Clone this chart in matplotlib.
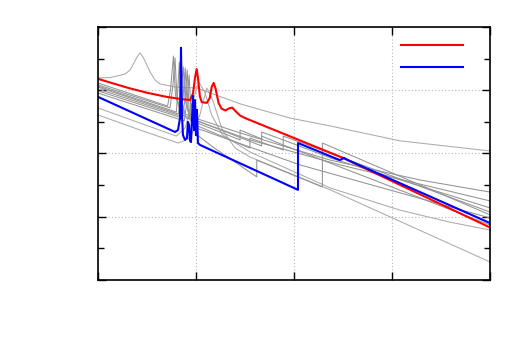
import matplotlib
matplotlib.use("Agg")
import matplotlib.pyplot as plt
from matplotlib.ticker import MultipleLocator, NullFormatter

# curva roja
rojo_x = [0, 0.3, 0.5, 0.7, 0.85, 0.94, 0.97, 0.99, 1.007, 1.02, 1.04, 1.06, 1.11, 1.14,
          1.16, 1.18, 1.2, 1.23, 1.26, 1.3, 1.34, 1.37, 1.4, 1.45, 1.5, 2.5, 4.0]
rojo_y = [6.36, 6.08, 5.92, 5.79, 5.72, 5.69, 5.9, 6.4, 6.67, 6.4, 5.8, 5.62, 5.6, 5.75,
          6.1, 6.23, 6.05, 5.6, 5.42, 5.36, 5.43, 5.45, 5.35, 5.2, 5.12, 3.86, 1.66]

# curva azul
azul_x = [0, 0.786, 0.816, 0.837, 0.847, 0.857, 0.867, 0.888, 0.908, 0.918, 0.929, 0.939,
          0.949, 0.959, 0.969, 0.98, 0.99, 1.0, 1.01, 1.02, 1.041, 2.041, 2.041, 2.469,
          2.51, 2.551, 4.0]
azul_y = [5.79, 4.68, 4.74, 5.12, 7.34, 5.22, 4.58, 4.43, 4.49, 5.0, 4.9, 4.4,
          4.36, 5.06, 5.82, 4.74, 5.69, 4.58, 5.38, 4.33, 4.27, 2.85, 4.33, 3.79,
          3.86, 3.79, 1.80]

# curvas grises (resto de casos)
g1_x = [0, 0.122, 0.276, 0.327, 0.367, 0.398, 0.429, 0.459, 0.49, 0.531, 0.582, 0.633,
        0.79, 1.01, 1.45, 1.96, 2.37, 3.08, 4.0]
g1_y = [6.39, 6.40, 6.51, 6.64, 6.86, 7.05, 7.18, 7.05, 6.86, 6.58, 6.32, 6.20,
        6.10, 6.07, 5.57, 5.12, 4.87, 4.40, 4.08]

c1_x = [0, 0.71, 0.74, 0.77, 0.79, 0.84, 0.99, 1.45, 2.37, 3.29, 4.0]
c1_y = [6.23, 5.50, 6.01, 7.08, 5.85, 5.31, 5.12, 4.65, 3.79, 3.16, 2.78]
c2_x = [0, 0.735, 0.765, 0.786, 0.806, 0.857, 1.01, 1.55, 2.47, 4.0]
c2_y = [6.17, 5.44, 6.17, 7.02, 5.76, 5.22, 5.03, 4.43, 3.64, 2.50]
c3_x = [0, 0.82, 0.85, 0.87, 0.89, 0.94, 1.04, 1.45, 1.45, 1.67, 1.67, 1.89, 2.37, 4.0]
c3_y = [6.10, 5.25, 6.01, 6.74, 5.69, 5.06, 4.93, 4.43, 4.74, 4.46, 4.68, 4.43, 3.86, 2.28]
c4_x = [0, 0.84, 0.87, 0.89, 0.91, 0.96, 1.04, 1.55, 1.55, 1.89, 1.89, 2.06, 4.0]
c4_y = [6.04, 5.19, 5.85, 6.70, 5.53, 4.90, 4.84, 4.17, 4.49, 4.11, 4.55, 4.36, 2.15]
c5_x = [0, 0.86, 0.89, 0.91, 0.93, 0.99, 1.09, 2.06, 4.0]
c5_y = [5.98, 5.12, 5.76, 6.64, 5.38, 4.81, 4.71, 3.64, 1.96]
c6_x = [0, 0.88, 0.91, 0.93, 0.95, 1.01, 1.17, 1.62, 1.62, 2.29, 2.29, 4.0]
c6_y = [5.91, 5.03, 5.69, 6.48, 5.22, 4.59, 4.21, 3.26, 3.79, 2.94, 4.33, 2.06]
c7_x = [0, 0.80, 0.82, 0.83, 0.85, 0.90, 1.04, 1.67, 1.67, 1.89, 4.0]
c7_y = [6.13, 5.31, 6.32, 6.89, 5.69, 5.12, 5.00, 4.24, 4.55, 4.27, 1.74]

l1_x = [0, 0.43, 0.80, 0.89, 0.97, 1.03, 1.09, 1.16, 1.27, 1.55, 2.37, 3.08, 3.59, 4.0]
l1_y = [5.44, 4.96, 4.55, 4.81, 5.69, 6.26, 5.94, 5.22, 4.59, 4.05, 2.91, 2.21, 1.83, 1.58]
l2_x = [0, 0.43, 0.82, 0.94, 1.04, 1.11, 1.17, 1.27, 1.40, 1.55, 2.37, 4.0]
l2_y = [5.22, 4.74, 4.33, 4.49, 5.22, 6.07, 5.69, 4.74, 4.17, 3.89, 2.85, 0.57]

grises_claros = [(g1_x, g1_y), (l1_x, l1_y), (l2_x, l2_y)]
grises_oscuros = [(c1_x, c1_y), (c2_x, c2_y), (c3_x, c3_y), (c4_x, c4_y),
                  (c5_x, c5_y), (c6_x, c6_y), (c7_x, c7_y)]

fig = plt.figure(figsize=(5.32, 3.55), dpi=100)
ax = fig.add_axes([0.1842, 0.2113, 0.7368, 0.7127])

for gx, gy in grises_claros:
    ax.plot(gx, gy, color='#ababab', lw=0.75)
for gx, gy in grises_oscuros:
    ax.plot(gx, gy, color='#939393', lw=0.75)

l_rojo, = ax.plot(rojo_x, rojo_y, color='#ff0000', lw=1.5)
l_azul, = ax.plot(azul_x, azul_y, color='#0000ff', lw=1.5)

ax.set_xlim(0, 4)
ax.set_ylim(0, 8)
ax.xaxis.set_major_locator(MultipleLocator(1))
ax.yaxis.set_major_locator(MultipleLocator(2))
ax.yaxis.set_minor_locator(MultipleLocator(1))
ax.xaxis.set_major_formatter(NullFormatter())
ax.yaxis.set_major_formatter(NullFormatter())
ax.tick_params(which='both', direction='in', top=True, right=True, color='black')
ax.tick_params(which='major', length=6, width=1)
ax.tick_params(which='minor', length=4, width=1)
for s in ax.spines.values():
    s.set_linewidth(1.2)
ax.grid(True, which='major', color='#b8b8b8', linestyle=(0, (1, 2)), lw=0.8)

ax.legend([l_rojo, l_azul], [' ', ' '], loc='upper left', bbox_to_anchor=(0.773, 0.953),
          frameon=False, handlelength=4.45, handletextpad=0.2, borderpad=0,
          borderaxespad=0, labelspacing=0.6, fontsize=10)

fig.savefig('out.png', dpi=100)
